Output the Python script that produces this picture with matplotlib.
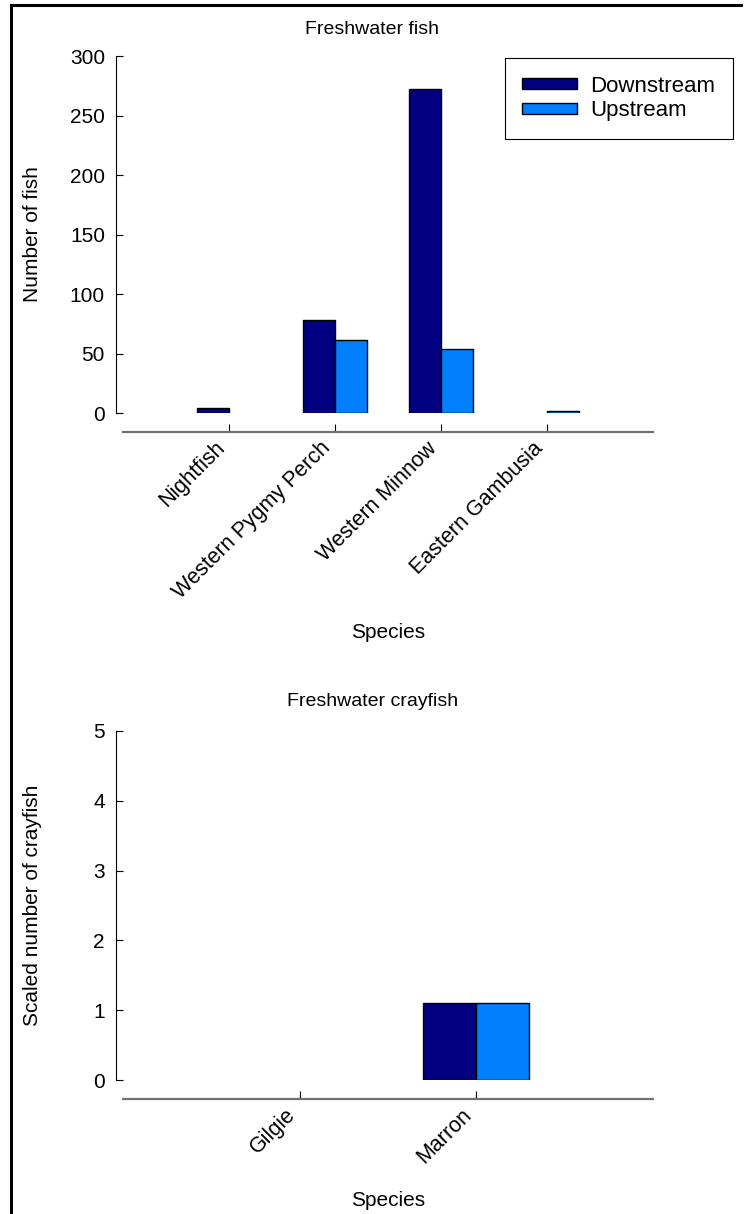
import matplotlib.pyplot as plt
import numpy as np
from matplotlib.lines import Line2D

plt.rcParams['font.family'] = ['Liberation Sans', 'DejaVu Sans']

# data
fish_species = ['Nightfish', 'Western Pygmy Perch', 'Western Minnow', 'Eastern Gambusia']
fish_down = [4, 78, 272, 0]
fish_up = [0, 61, 54, 2]

cray_species = ['Gilgie', 'Marron']
cray_down = [0, 1.1]
cray_up = [0, 1.1]

c_down = '#000080'
c_up = '#0080ff'
W, H = 744, 1214

fig = plt.figure(figsize=(W / 100, H / 100), dpi=100)

def make_ax(x0, y0, x1, y1):
    # pixel box -> figure fraction
    return fig.add_axes([x0 / W, 1 - y1 / H, (x1 - x0) / W, (y1 - y0) / H])

def edges(vals):
    # zero counts get no outline, like the original
    return ['black' if v > 0 else 'none' for v in vals]

def style(ax, n, ymax, yticks):
    ax.set_xlim(0, n + 1)
    ax.set_ylim(0, ymax)
    ax.spines['top'].set_visible(False)
    ax.spines['right'].set_visible(False)
    ax.spines['left'].set_position(('outward', 5))
    ax.spines['left'].set_linewidth(0.8)
    ax.spines['bottom'].set_position(('outward', 13.7))
    ax.spines['bottom'].set_color('#707070')
    ax.spines['bottom'].set_linewidth(1.6)
    ax.set_yticks(yticks)
    ax.tick_params(axis='y', direction='in', length=5, width=0.8, labelsize=15, pad=8)
    ax.tick_params(axis='x', direction='in', length=6, width=0.8, labelsize=15.5, pad=4)
    ax.set_xticks(np.arange(1, n + 1))
    ax.yaxis.set_label_coords(-0.152, 0.5)

# top panel
ax1 = make_ax(123, 56, 653, 413)
x = np.arange(1, len(fish_species) + 1)
ax1.bar(x - 0.15, fish_down, 0.3, color=c_down, edgecolor=edges(fish_down), linewidth=1, label='Downstream')
ax1.bar(x + 0.15, fish_up, 0.3, color=c_up, edgecolor=edges(fish_up), linewidth=1, label='Upstream')
style(ax1, len(fish_species), 300, range(0, 301, 50))
ax1.set_xticklabels(fish_species, rotation=45, ha='right', va='top')
ax1.set_title('Freshwater fish', fontsize=14, x=0.47, pad=16)
ax1.set_ylabel('Number of fish', fontsize=15)
ax1.set_xlabel('Species', fontsize=15, labelpad=14)
leg = ax1.legend(loc='upper right', bbox_to_anchor=(733 / W, 1 - 58 / H), bbox_transform=fig.transFigure,
                 borderaxespad=0, fontsize=16, fancybox=False, framealpha=1, edgecolor='black',
                 handlelength=2.45, handleheight=0.4, handletextpad=0.6, borderpad=0.8,
                 labelspacing=0.15)
leg.get_frame().set_linewidth(0.8)
for h in leg.legend_handles:
    h.set_edgecolor('black')

# bottom panel
ax2 = make_ax(123, 731, 653, 1080)
x2 = np.arange(1, len(cray_species) + 1)
ax2.bar(x2 - 0.15, cray_down, 0.3, color=c_down, edgecolor=edges(cray_down), linewidth=1)
ax2.bar(x2 + 0.15, cray_up, 0.3, color=c_up, edgecolor=edges(cray_up), linewidth=1)
style(ax2, len(cray_species), 5, range(0, 6))
ax2.set_xticklabels(cray_species, rotation=45, ha='right', va='top')
ax2.set_title('Freshwater crayfish', fontsize=14, x=0.47, pad=18)
ax2.set_ylabel('Scaled number of crayfish', fontsize=15)
ax2.set_xlabel('Species', fontsize=15, labelpad=17)

# page frame
fig.add_artist(Line2D([10.5 / W, 10.5 / W], [0, 1 - 5 / H], color='black', lw=2.2))
fig.add_artist(Line2D([10.5 / W, 741 / W], [1 - 5 / H, 1 - 5 / H], color='black', lw=2.2))

fig.savefig('out.png', dpi=100)
